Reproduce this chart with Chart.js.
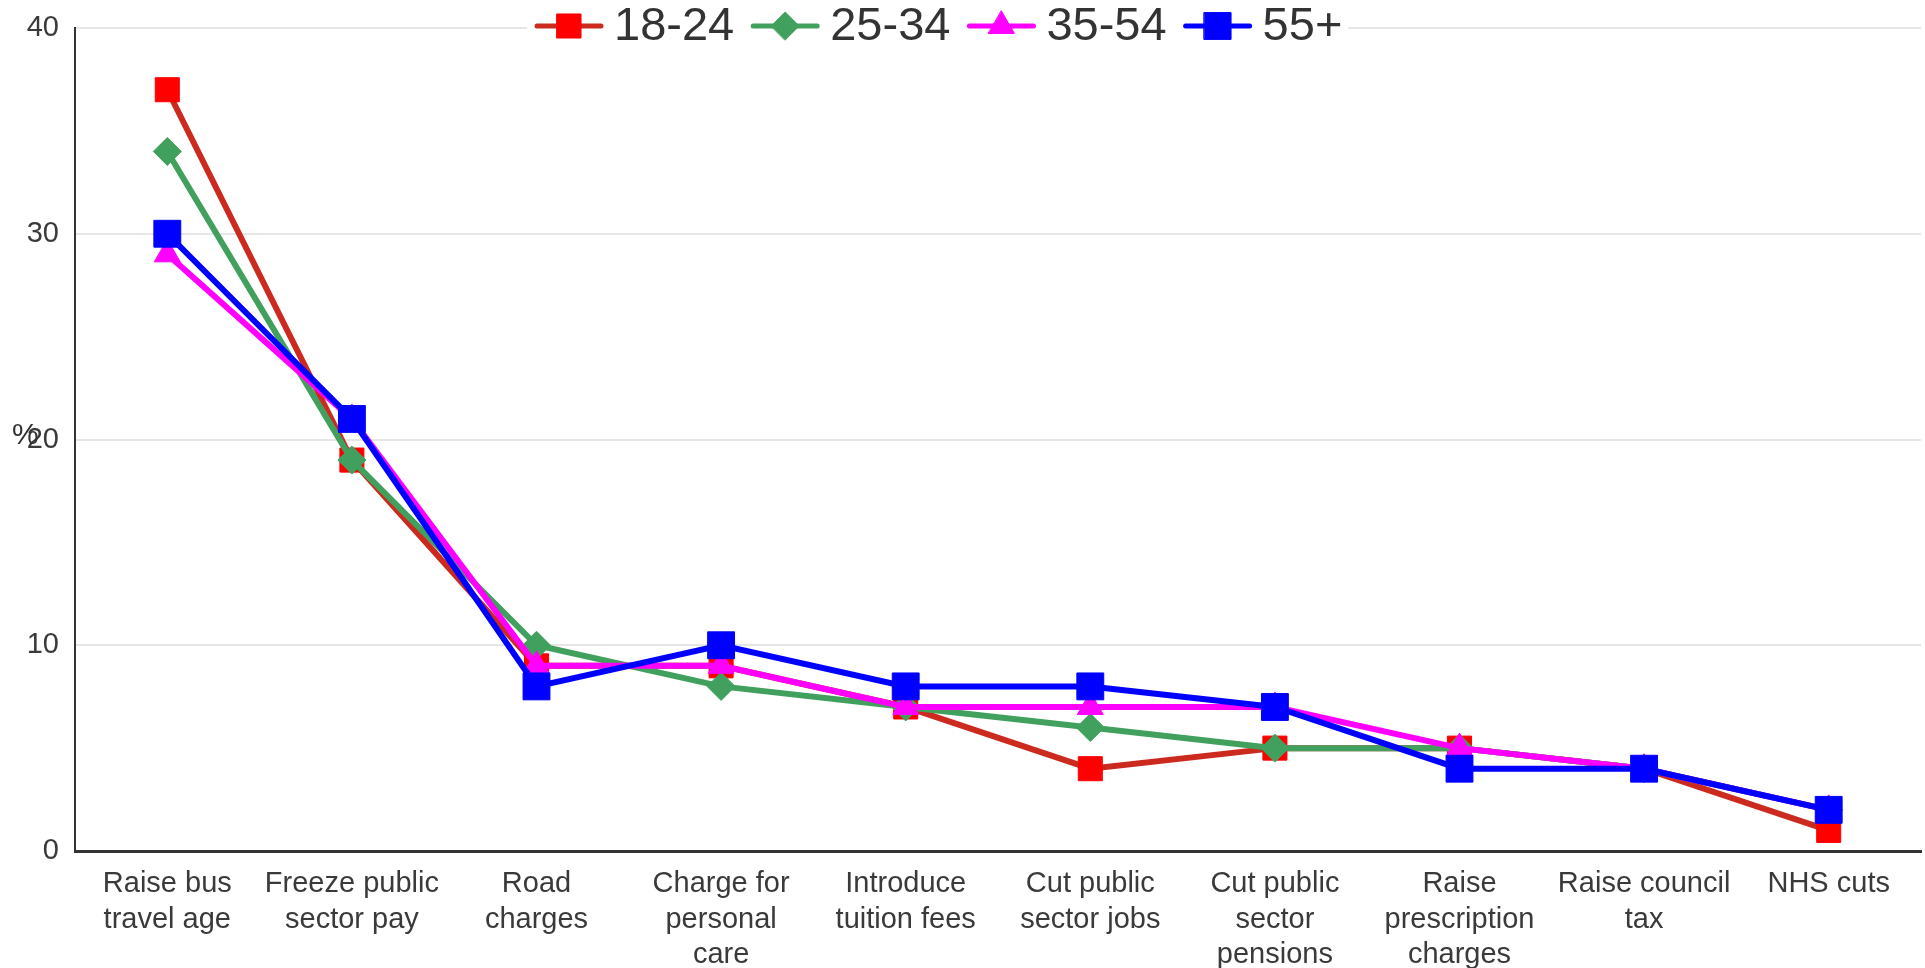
<!DOCTYPE html>
<html>
<head>
<meta charset="utf-8">
<script src="https://cdn.jsdelivr.net/npm/chart.js@4.4.1/dist/chart.umd.min.js"></script>
<style>
  html, body { margin: 0; padding: 0; background: #fff; overflow: hidden; }
  #wrap { width: 1925px; height: 968px; }
  canvas { display: block; }
</style>
</head>
<body>
<div id="wrap"><canvas id="ageChart" width="1925" height="968"></canvas></div>
<script>
const categories = [
    ['Raise bus', 'travel age'],
    ['Freeze public', 'sector pay'],
    ['Road', 'charges'],
    ['Charge for', 'personal', 'care'],
    ['Introduce', 'tuition fees'],
    ['Cut public', 'sector jobs'],
    ['Cut public', 'sector', 'pensions'],
    ['Raise', 'prescription', 'charges'],
    ['Raise council', 'tax'],
    ['NHS cuts']
];

const age18to24 = [37, 19, 9, 9, 7, 4, 5, 5, 4, 1];
const age25to34 = [34, 19, 10, 8, 7, 6, 5, 5, 4, 2];
const age35to54 = [29, 21, 9, 9, 7, 7, 7, 5, 4, 2];
const age55plus = [30, 21, 8, 10, 8, 8, 7, 4, 4, 2];

const yTicks = [0, 10, 20, 30, 40];

Chart.defaults.font.family = "'Liberation Sans', Arial, sans-serif";
Chart.defaults.color = '#3a3a3a';

// legend drawn on top of the plot, line + marker like the original
const lineLegend = {
    id: 'lineLegend',
    afterDatasetsDraw(chart) {
        const ctx = chart.ctx;
        const cy = 26;
        let x = 535;
        ctx.save();
        ctx.font = "47px 'Liberation Sans', Arial, sans-serif";
        const items = chart.data.datasets.map(ds => ({ ds, w: ctx.measureText(ds.label).width }));
        const total = items.reduce((s, it) => s + 79 + it.w, 0) + 17 * (items.length - 1);
        ctx.fillStyle = '#fff';
        ctx.fillRect(x - 8, 2, total + 14, 50);
        items.forEach(({ ds, w }) => {
            ctx.strokeStyle = ds.borderColor;
            ctx.lineWidth = 5;
            ctx.lineCap = 'round';
            ctx.beginPath();
            ctx.moveTo(x + 2, cy);
            ctx.lineTo(x + 66, cy);
            ctx.stroke();
            ctx.fillStyle = ds.pointBackgroundColor;
            ctx.strokeStyle = ds.pointBackgroundColor;
            ctx.lineWidth = 1;
            Chart.helpers.drawPoint(ctx, { pointStyle: ds.pointStyle, radius: ds.pointRadius, borderWidth: 1 }, x + 34, cy);
            ctx.fillStyle = '#333';
            ctx.textBaseline = 'middle';
            ctx.textAlign = 'left';
            ctx.fillText(ds.label, x + 79, cy + 1);
            x += 79 + w + 17;
        });
        ctx.restore();
    },
    afterDraw(chart) {
        const ctx = chart.ctx;
        ctx.save();
        ctx.font = "30px 'Liberation Sans', Arial, sans-serif";
        ctx.fillStyle = '#333';
        ctx.textAlign = 'left';
        ctx.textBaseline = 'middle';
        ctx.fillText('%', 12, 436);
        ctx.restore();
    }
};

const ctx = document.getElementById('ageChart').getContext('2d');

new Chart(ctx, {
    type: 'line',
    data: {
        labels: categories,
        datasets: [
            {
                label: '18-24',
                data: age18to24,
                borderColor: '#cc2a1f',
                borderWidth: 6,
                pointStyle: 'rect',
                pointRadius: 17,
                pointBackgroundColor: '#ff0000',
                pointBorderColor: '#ff0000',
                pointBorderWidth: 1,
                order: 4
            },
            {
                label: '25-34',
                data: age25to34,
                borderColor: '#41a05e',
                borderWidth: 6,
                pointStyle: 'rectRot',
                pointRadius: 14,
                pointBackgroundColor: '#41a05e',
                pointBorderColor: '#41a05e',
                pointBorderWidth: 1,
                order: 3
            },
            {
                label: '35-54',
                data: age35to54,
                borderColor: '#ff00ff',
                borderWidth: 6,
                pointStyle: 'triangle',
                pointRadius: 15,
                pointBackgroundColor: '#ff00ff',
                pointBorderColor: '#ff00ff',
                pointBorderWidth: 1,
                order: 2
            },
            {
                label: '55+',
                data: age55plus,
                borderColor: '#0000ff',
                borderWidth: 6,
                pointStyle: 'rect',
                pointRadius: 19,
                pointBackgroundColor: '#0000ff',
                pointBorderColor: '#0000ff',
                pointBorderWidth: 1,
                order: 1
            }
        ]
    },
    options: {
        responsive: false,
        animation: false,
        layout: { autoPadding: false, padding: { left: 24, right: 4, top: 28, bottom: 0 } },
        scales: {
            x: {
                offset: true,
                grid: { display: false },
                border: { display: true, color: '#333', width: 3 },
                ticks: {
                    maxRotation: 0,
                    autoSkip: false,
                    padding: 7,
                    color: '#3a3a3a',
                    font: { size: 29, lineHeight: 1.23 }
                },
                afterFit: s => { s.height = 117; s.paddingLeft = 0; s.paddingRight = 0; }
            },
            y: {
                min: 0,
                max: 40,
                afterBuildTicks: axis => { axis.ticks = yTicks.map(v => ({ value: v })); },
                grid: { color: '#e6e6e6', lineWidth: 2, drawTicks: false },
                border: { display: true, color: '#333', width: 2 },
                ticks: {
                    padding: 16,
                    color: '#3a3a3a',
                    font: { size: 29 }
                },
                afterFit: s => { s.width = 51; s.paddingTop = 0; s.paddingBottom = 0; }
            }
        },
        plugins: {
            legend: { display: false },
            tooltip: { enabled: false }
        }
    },
    plugins: [lineLegend]
});
</script>
</body>
</html>
